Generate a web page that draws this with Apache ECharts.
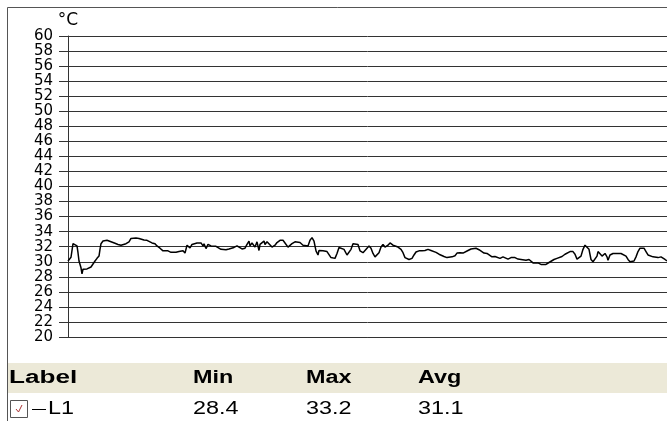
<!DOCTYPE html>
<html>
<head>
<meta charset="utf-8">
<script src="https://cdn.jsdelivr.net/npm/echarts@6/dist/echarts.min.js"></script>
<style>
  html, body { margin: 0; padding: 0; background: #fff; }
  #chart { width: 667px; height: 421px; }
</style>
</head>
<body>
<div id="chart"></div>
<script>
// Logger channel L1: sample time (index) and temperature in °C
const times = [
  0, 3, 5, 7, 9, 10, 11, 13, 14, 15, 17, 19, 21, 23, 25, 27, 29, 31, 32, 33,
  35, 37, 39, 41, 43, 45, 47, 50, 53, 55, 58, 61, 63, 65, 68, 71, 73, 76, 79, 81,
  84, 87, 89, 92, 95, 97, 100, 103, 105, 108, 111, 113, 115, 117, 119, 120, 122, 124, 126, 129,
  131, 133, 135, 136, 138, 140, 143, 145, 148, 150, 153, 155, 158, 161, 163, 166, 169, 171, 174, 177,
  179, 181, 182, 184, 186, 187, 189, 191, 192, 194, 196, 197, 199, 201, 204, 207, 209, 212, 215, 217,
  220, 222, 224, 227, 229, 232, 235, 237, 240, 242, 244, 246, 248, 250, 251, 253, 255, 257, 259, 261,
  263, 265, 267, 269, 271, 273, 276, 279, 281, 283, 285, 287, 290, 292, 295, 297, 299, 301, 303, 305,
  307, 309, 311, 313, 315, 317, 318, 320, 322, 325, 327, 330, 333, 335, 337, 339, 341, 344, 346, 348,
  351, 354, 357, 360, 363, 365, 368, 371, 373, 376, 379, 381, 384, 387, 389, 392, 395, 397, 400, 403,
  405, 408, 411, 413, 416, 419, 421, 424, 427, 429, 432, 435, 437, 440, 443, 445, 447, 450, 453, 455,
  458, 461, 463, 465, 467, 470, 473, 475, 478, 481, 483, 486, 489, 491, 494, 497, 499, 502, 505, 507,
  509, 511, 513, 515, 517, 519, 521, 523, 525, 527, 529, 530, 532, 534, 535, 537, 539, 540, 542, 545,
  547, 550, 553, 555, 558, 560, 562, 564, 566, 568, 570, 572, 574, 576, 578, 580, 582, 585, 587, 590,
  593, 595, 597, 599
];
const temps = [
  30.1, 30.6, 32.4, 32.5, 32.1, 31.2, 30.1, 29.2, 28.4, 29.0, 29.2, 29.05, 29.1, 29.3, 29.55, 30.1, 30.45, 30.75, 31.65, 32.4,
  32.75, 32.9, 32.85, 32.6, 32.65, 32.5, 32.45, 32.3, 32.2, 32.3, 32.4, 32.65, 33.1, 33.2, 33.15, 33.1, 32.95, 32.9, 32.85, 32.6,
  32.5, 32.4, 32.1, 31.8, 31.45, 31.35, 31.45, 31.25, 31.45, 31.25, 31.35, 31.1, 31.45, 31.15, 32.2, 32.4, 31.85, 32.3, 32.1, 32.5,
  32.65, 32.5, 32.1, 32.4, 31.75, 32.3, 32.1, 32.2, 32.05, 31.95, 31.65, 31.45, 31.6, 31.7, 31.8, 31.9, 32.1, 31.9, 31.7, 31.8,
  32.3, 32.75, 32.1, 32.5, 32.75, 31.95, 32.65, 31.5, 32.3, 32.5, 32.75, 32.3, 32.65, 32.5, 31.95, 32.2, 32.55, 32.85, 32.85, 32.5,
  31.95, 31.9, 32.4, 32.65, 32.75, 32.55, 32.2, 31.95, 32.1, 32.85, 33.2, 32.75, 31.45, 30.9, 31.5, 31.35, 31.45, 31.6, 31.35, 31.2,
  30.55, 30.3, 30.45, 31.1, 31.9, 32.1, 31.65, 30.9, 31.0, 31.65, 32.4, 32.65, 32.3, 31.45, 31.2, 31.35, 31.8, 32.1, 31.8, 31.1,
  30.65, 30.55, 31.2, 31.95, 32.3, 31.95, 31.8, 32.2, 32.5, 32.2, 32.1, 31.95, 31.65, 31.2, 30.55, 30.3, 30.3, 30.45, 30.9, 31.3,
  31.45, 31.45, 31.5, 31.65, 31.5, 31.45, 31.25, 31.0, 30.8, 30.7, 30.55, 30.45, 30.65, 30.8, 31.15, 31.2, 31.15, 31.35, 31.5, 31.7,
  31.85, 31.8, 31.6, 31.45, 31.15, 31.1, 31.0, 30.65, 30.7, 30.8, 30.45, 30.65, 30.45, 30.35, 30.55, 30.45, 30.55, 30.35, 30.3, 30.3,
  30.2, 30.3, 30.1, 29.85, 29.9, 29.85, 29.65, 29.5, 29.65, 29.9, 30.1, 30.3, 30.45, 30.55, 30.7, 31.0, 31.25, 31.35, 31.35, 31.0,
  30.35, 30.3, 30.75, 31.65, 32.2, 32.2, 31.65, 30.3, 30.0, 30.1, 30.75, 31.35, 31.45, 30.75, 30.9, 31.1, 30.65, 30.2, 30.9, 31.1,
  31.1, 31.1, 31.1, 31.0, 30.75, 30.3, 30.0, 29.85, 30.1, 30.65, 31.35, 31.8, 31.95, 31.8, 31.35, 30.9, 30.65, 30.65, 30.7, 30.55,
  30.65, 30.45, 30.3, 30.1
];

// Axis range and tick step
const yMin = 20;
const yMax = 60;
const yStep = 2;
const unitName = '°C';

// Statistics table beneath the plot
const statHeaders = ['Label', 'Min', 'Max', 'Avg'];
const statRow = ['L1', '28.4', '33.2', '31.1'];

const chart = echarts.init(document.getElementById('chart'), null, { renderer: 'canvas' });

const tableFont = '"Liberation Sans", Arial, sans-serif';
const colX = [9, 193, 306, 418];
const headY = 378;
const rowY = 409;
const stretch = 1.3;

const graphics = [
  // outer frame (left and top edges)
  { type: 'polyline', silent: true, z: 10,
    shape: { points: [[7.5, 421], [7.5, 7.5], [667, 7.5]] },
    style: { stroke: '#555', lineWidth: 1, fill: null } },
  // header band
  { type: 'rect', silent: true, z: 1,
    shape: { x: 8, y: 363, width: 659, height: 30 },
    style: { fill: '#ECE9D8' } },
  // checkbox
  { type: 'rect', silent: true, z: 5,
    shape: { x: 10.5, y: 400.5, width: 17, height: 17 },
    style: { fill: '#fff', stroke: '#555', lineWidth: 1 } },
  { type: 'polyline', silent: true, z: 6,
    shape: { points: [[16, 409], [18.5, 412], [22, 405]] },
    style: { stroke: '#a33', lineWidth: 1, fill: null } },
  // legend swatch for the series line
  { type: 'line', silent: true, z: 6,
    shape: { x1: 32, y1: 409.5, x2: 46, y2: 409.5 },
    style: { stroke: '#000', lineWidth: 1 } }
];

statHeaders.forEach((h, i) => {
  graphics.push({
    type: 'text', silent: true, z: 6, x: colX[i], y: headY, scaleX: i === 0 ? 1.45 : stretch,
    style: { text: h, font: 'bold 18px ' + tableFont, fill: '#000', textVerticalAlign: 'middle', textAlign: 'left' }
  });
});
statRow.forEach((v, i) => {
  graphics.push({
    type: 'text', silent: true, z: 6, x: i === 0 ? 48 : colX[i], y: rowY, scaleX: stretch,
    style: { text: v, font: '18px ' + tableFont, fill: '#000', textVerticalAlign: 'middle', textAlign: 'left' }
  });
});

chart.setOption({
  animation: false,
  backgroundColor: '#fff',
  grid: { left: 68, top: 36, right: 0, bottom: 84, containLabel: false },
  xAxis: {
    type: 'value',
    min: 0,
    max: times[times.length - 1],
    axisLine: { show: true, lineStyle: { color: '#333', width: 1 } },
    axisTick: { show: false },
    axisLabel: { show: false },
    splitLine: { show: false }
  },
  yAxis: {
    type: 'value',
    min: yMin,
    max: yMax,
    interval: yStep,
    name: unitName,
    nameLocation: 'end',
    nameGap: 7,
    nameTextStyle: { fontFamily: 'DejaVu Sans', fontSize: 17, color: '#000', align: 'center' },
    axisLine: { show: true, lineStyle: { color: '#333', width: 1 } },
    axisTick: { show: true, length: 9, lineStyle: { color: '#333' } },
    axisLabel: { margin: 15, fontFamily: 'DejaVu Sans', fontSize: 15, color: '#000' },
    splitLine: { show: true, lineStyle: { color: '#333', width: 1 } }
  },
  graphic: graphics,
  series: [{
    name: 'L1',
    type: 'line',
    data: times.map((t, i) => [t, temps[i]]),
    symbol: 'none',
    showSymbol: false,
    lineStyle: { color: '#000', width: 1.5 }
  }]
});
</script>
</body>
</html>
